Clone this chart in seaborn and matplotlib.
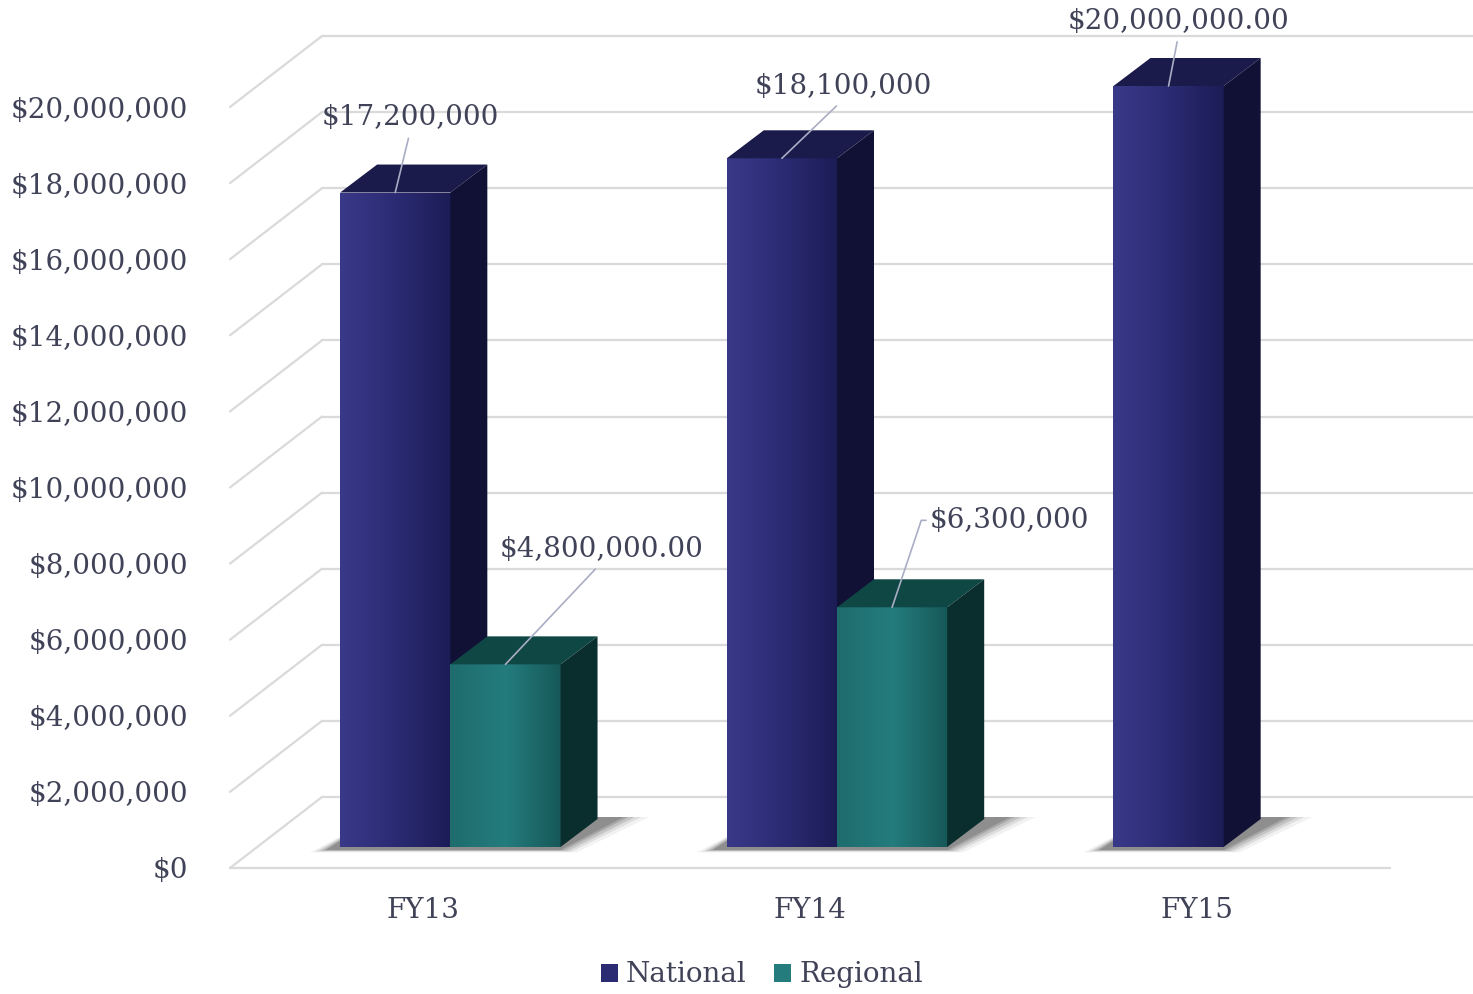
import numpy as np
import pandas as pd
import matplotlib
matplotlib.use("Agg")
import matplotlib.pyplot as plt
import matplotlib.transforms as mtransforms
from matplotlib.colors import LinearSegmentedColormap
from matplotlib.lines import Line2D
from matplotlib.patches import Polygon, Patch
from matplotlib.ticker import StrMethodFormatter
import seaborn as sns

# data
years = ["FY13", "FY14", "FY15"]
national = [17200000, 18100000, 20000000]
regional = [4800000, 6300000]  # no regional figure for FY15
national_labels = ["$17,200,000", "$18,100,000", "$20,000,000.00"]
regional_labels = ["$4,800,000.00", "$6,300,000"]
series = ["National", "Regional"]
y_ticks = list(range(0, 20000001, 2000000))

TEXT = "#404258"
GRID = "#dadada"
LEADER = "#a9adc4"
NAT_FRONT = ["#393989", "#2b2b74", "#1c1c56"]
NAT_TOP, NAT_SIDE = "#1b1b4b", "#111136"
REG_FRONT = ["#1f6c6d", "#247c7d", "#175859"]
REG_TOP, REG_SIDE = "#0f4745", "#0a2d2e"
FS = 20

df = pd.DataFrame({
    "year": years + years[:len(regional)],
    "series": ["National"] * len(national) + ["Regional"] * len(regional),
    "value": national + regional,
})

DPI = 100
sns.set_theme(style="white")
plt.rcParams["font.family"] = ["DejaVu Serif"]
fig = plt.figure(figsize=(14.73, 9.94), dpi=DPI)
fig.patch.set_facecolor("white")
ax = fig.add_axes([230 / 1473, 126 / 994, 1160 / 1473, 761 / 994])
ax.set_facecolor("none")

sns.barplot(data=df, x="year", y="value", hue="series", hue_order=series,
            order=years, palette=[NAT_FRONT[1], REG_FRONT[1]], width=0.57,
            linewidth=0, saturation=1, legend=False, ax=ax)
ax.set_xlim(-0.5, len(years) - 0.5)
ax.set_ylim(0, 20000000)

def shift(dx, dy):
    return mtransforms.ScaledTranslation(dx / DPI, dy / DPI, fig.dpi_scale_trans)

# depth offsets in pixels: bar front plane, bar depth, back wall
BAR_OFF = (27, 21)
BAR_DEPTH = (37, 28)
WALL = (92, 71)
bar_trans = ax.transData + shift(*BAR_OFF)
ident = mtransforms.IdentityTransform()

def wall_line(xs, ys):
    ax.add_line(Line2D(xs, ys, color=GRID, lw=1.6, transform=ident,
                       clip_on=False, zorder=0.5))

# walls and gridlines
X0 = ax.transData.transform((ax.get_xlim()[0], 0))[0]
X1 = ax.transData.transform((ax.get_xlim()[1], 0))[0]
for v in y_ticks:
    Y = ax.transData.transform((0, v))[1]
    wall_line([X0, X0 + WALL[0]], [Y, Y + WALL[1]])
    wall_line([X0 + WALL[0], X1 + WALL[0]], [Y + WALL[1], Y + WALL[1]])
Y0 = ax.transData.transform((0, 0))[1]
wall_line([X0, X1], [Y0, Y0])

# floor shadows per category
bars = []
for ci, cont in enumerate(ax.containers):
    for p in cont.patches:
        bars.append((p, ci))
bars.sort(key=lambda b: b[0].get_x())

groups = {}
for p, ci in bars:
    key = int(round(p.get_x() + p.get_width() / 2))
    groups.setdefault(key, []).append(p)
for key, ps in groups.items():
    xa = bar_trans.transform((min(q.get_x() for q in ps), 0))
    xb = bar_trans.transform((max(q.get_x() + q.get_width() for q in ps), 0))
    for grow, a in [(16, 0.06), (11, 0.1), (7, 0.14), (3, 0.18), (0, 0.2)]:
        verts = [(xa[0] - 14 - grow, xa[1] - 3 - grow * 0.15),
                 (xb[0] + grow, xb[1] - 3 - grow * 0.15),
                 (xb[0] + BAR_DEPTH[0] + 26 + grow * 1.6, xb[1] + BAR_DEPTH[1] + 2),
                 (xa[0] + BAR_DEPTH[0], xa[1] + BAR_DEPTH[1] + 2)]
        ax.add_patch(Polygon(verts, closed=True, facecolor="#2a2a2a", edgecolor="none",
                             alpha=a, transform=ident, zorder=1, clip_on=False))

# 3D bars
grad = np.linspace(0, 1, 256).reshape(1, -1)
for k, (p, ci) in enumerate(bars):
    z = 2 + k * 0.1
    front = NAT_FRONT if ci == 0 else REG_FRONT
    top_c = NAT_TOP if ci == 0 else REG_TOP
    side_c = NAT_SIDE if ci == 0 else REG_SIDE
    p.set_transform(bar_trans)
    p.set_clip_on(False)
    p.set_zorder(z)
    x0, x1, h = p.get_x(), p.get_x() + p.get_width(), p.get_height()
    cmap = LinearSegmentedColormap.from_list("g", front)
    im = ax.imshow(grad, extent=(x0, x1, 0, h), transform=bar_trans, cmap=cmap,
                   aspect="auto", interpolation="bilinear", zorder=z + 0.01)
    im.set_clip_box(None)
    im.set_clip_path(p)
    br = bar_trans.transform((x1, 0))
    tl = bar_trans.transform((x0, h))
    tr = bar_trans.transform((x1, h))
    dx, dy = BAR_DEPTH
    top = [tl, tr, (tr[0] + dx, tr[1] + dy), (tl[0] + dx, tl[1] + dy)]
    side = [br, (br[0] + dx, br[1] + dy), (tr[0] + dx, tr[1] + dy), tr]
    ax.add_patch(Polygon(top, closed=True, facecolor=top_c, edgecolor="none",
                         transform=ident, zorder=z + 0.02, clip_on=False))
    ax.add_patch(Polygon(side, closed=True, facecolor=side_c, edgecolor="none",
                         transform=ident, zorder=z + 0.03, clip_on=False))

ax.set_xlim(-0.5, len(years) - 0.5)
ax.set_ylim(0, 20000000)

# data labels (offsets in points)
nat_offsets = [(10.8, 54), (43.9, 51.8), (7.2, 46.8)]
reg_offsets = [(69, 82.8), (84.2, 62.6)]
label_sets = [(ax.containers[0], national_labels, nat_offsets),
              (ax.containers[1], regional_labels, reg_offsets)]
for cont, texts, offs in label_sets:
    for p, t, off in zip(cont.patches, texts, offs):
        cx = p.get_x() + p.get_width() / 2
        if t == "$6,300,000":
            ap = dict(arrowstyle="-", color=LEADER, lw=1.2, shrinkA=0, shrinkB=0,
                      relpos=(0, 0.5),
                      connectionstyle="arc,angleA=180,angleB=90,armA=8,armB=0,rad=0")
        else:
            ap = dict(arrowstyle="-", color=LEADER, lw=1.2, shrinkA=3, shrinkB=0,
                      relpos=(0.5, 0))
        ax.annotate(t, xy=(cx, p.get_height()), xycoords=bar_trans, xytext=off,
                    textcoords="offset points", ha="center", va="center",
                    fontsize=FS, color=TEXT, arrowprops=ap, annotation_clip=False,
                    zorder=10)

# axes styling
ax.set_yticks(y_ticks)
ax.yaxis.set_major_formatter(StrMethodFormatter("${x:,.0f}"))
ax.tick_params(axis="y", length=0, pad=30, labelsize=FS, labelcolor=TEXT)
ax.tick_params(axis="x", length=0, pad=21, labelsize=FS, labelcolor=TEXT)
ax.set_xlabel("")
ax.set_ylabel("")
for spine in ax.spines.values():
    spine.set_visible(False)
ax.grid(False)

handles = [Patch(facecolor=NAT_FRONT[1], edgecolor="none", label="National"),
           Patch(facecolor=REG_FRONT[1], edgecolor="none", label="Regional")]
fig.legend(handles=handles, loc="center", bbox_to_anchor=(762 / 1473, 1 - 975 / 994),
           ncol=2, frameon=False, fontsize=FS, labelcolor=TEXT, handlelength=0.6,
           handleheight=0.6, handletextpad=0.3, columnspacing=1.0)

fig.savefig("out.png", dpi=DPI)
